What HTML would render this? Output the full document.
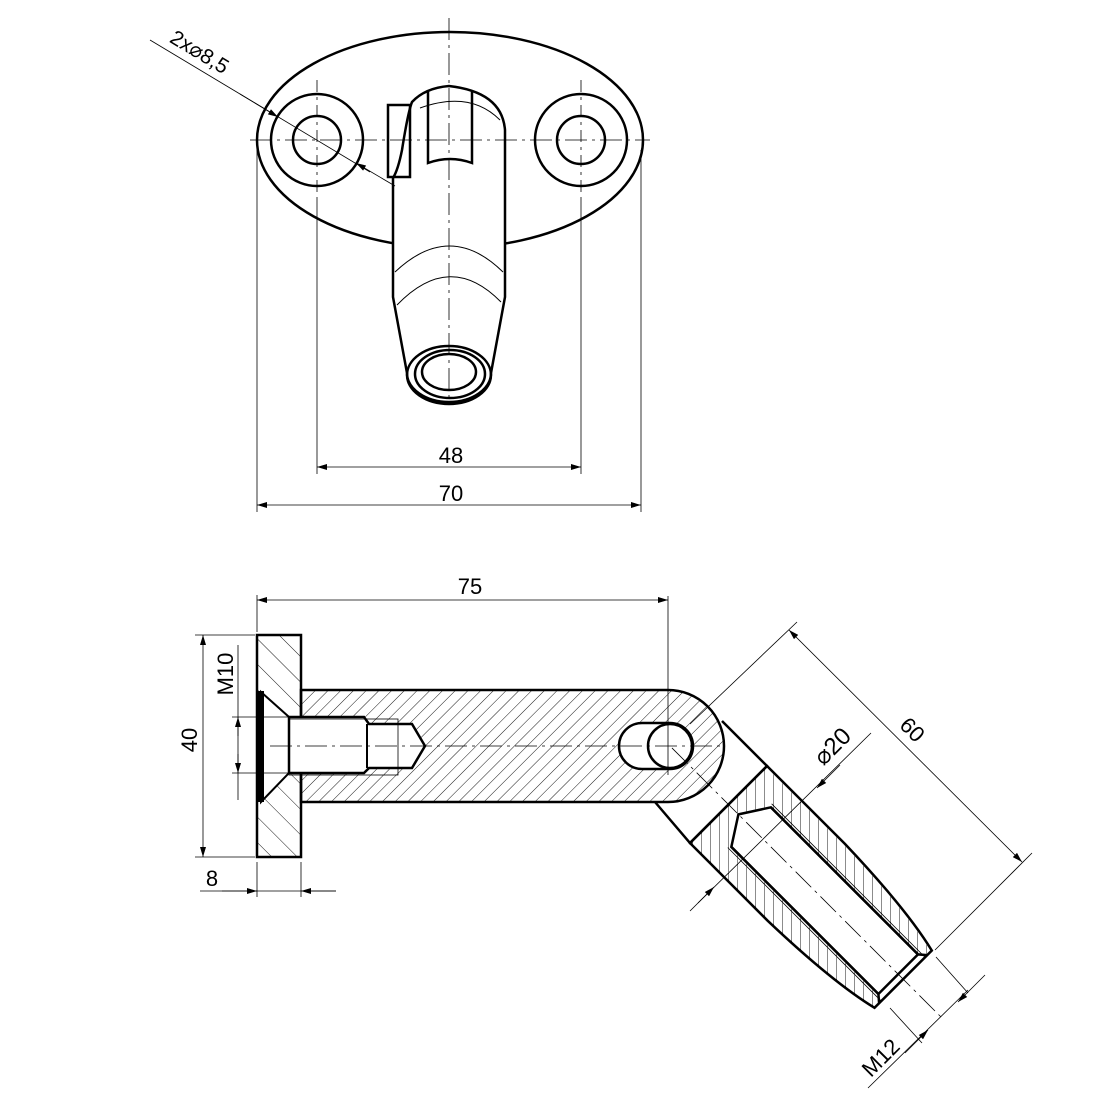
<!DOCTYPE html>
<html><head><style>html,body{margin:0;padding:0;background:#fff}svg{display:block}</style></head>
<body>
<svg width="1108" height="1108" viewBox="0 0 1108 1108" xmlns="http://www.w3.org/2000/svg" font-family="Liberation Sans, sans-serif">
<defs>
<pattern id="hr" width="9" height="9" patternUnits="userSpaceOnUse" patternTransform="rotate(45)"><line x1="0" y1="0" x2="0" y2="9" stroke="#000" stroke-width="0.9"/></pattern>
<pattern id="hp" width="18" height="18" patternUnits="userSpaceOnUse" patternTransform="rotate(-45)"><line x1="0" y1="0" x2="0" y2="18" stroke="#000" stroke-width="0.9"/></pattern>
<pattern id="hv" width="9" height="9" patternUnits="userSpaceOnUse" patternTransform="rotate(-45)"><line x1="0" y1="0" x2="0" y2="9" stroke="#000" stroke-width="0.9"/></pattern>
<marker id="a" viewBox="0 0 10 6" refX="10" refY="3" markerWidth="14" markerHeight="6" markerUnits="userSpaceOnUse" orient="auto-start-reverse"><path d="M0,0 L10,3 L0,6z" fill="#000"/></marker>
</defs>
<rect width="1108" height="1108" fill="#fff"/>

<!-- TOP VIEW -->
<g fill="none" stroke="#000">
<ellipse cx="450" cy="140" rx="193" ry="108" stroke-width="2.5"/>
<circle cx="317" cy="140" r="46" stroke-width="2.5"/>
<circle cx="317" cy="140" r="24" stroke-width="2.5"/>
<circle cx="581" cy="140" r="46" stroke-width="2.5"/>
<circle cx="581" cy="140" r="24" stroke-width="2.5"/>
<path d="M393,178 L393,297 L407,373 A42,29 0 0 0 491,373 L505,297 L505,130 Q502,92 449,86 Q425,88 412,102 Q408,112 402,150 Q398,170 393,178 Z" fill="#fff" stroke-width="2.5"/>
<rect x="388" y="105" width="22" height="72" fill="none" stroke-width="2.5"/>
<path d="M428,90 L428,163 Q450,155 472,163 L472,90" stroke-width="2.5"/>
<ellipse cx="449" cy="375" rx="42" ry="29" stroke-width="2.5"/>
<ellipse cx="450" cy="374" rx="35" ry="24" stroke-width="2.5"/>
<ellipse cx="449" cy="372" rx="27" ry="18" stroke-width="2.5"/>
<path d="M395,272 Q450,220 503,272" stroke-width="1"/>
<path d="M397,305 Q450,250 501,302" stroke-width="1"/>
<path d="M420,108 Q470,90 500,120" stroke-width="1"/>
</g>
<g stroke="#000" stroke-width="0.8" fill="none">
<line x1="449" y1="18" x2="449" y2="400" stroke-dasharray="22,5,3,5"/>
<line x1="250" y1="140" x2="650" y2="140" stroke-dasharray="22,5,3,5"/>
<line x1="317" y1="80" x2="317" y2="200" stroke-dasharray="12,5,3,5"/>
<line x1="581" y1="80" x2="581" y2="200" stroke-dasharray="12,5,3,5"/>
<line x1="317" y1="200" x2="317" y2="474"/>
<line x1="581" y1="200" x2="581" y2="474"/>
<line x1="257" y1="150" x2="257" y2="512"/>
<line x1="641" y1="150" x2="641" y2="512"/>
<line x1="317" y1="467" x2="581" y2="467" marker-start="url(#a)" marker-end="url(#a)"/>
<line x1="257" y1="505" x2="641" y2="505" marker-start="url(#a)" marker-end="url(#a)"/>
<line x1="150" y1="40" x2="370" y2="172"/>
<line x1="240" y1="94" x2="278" y2="117" marker-end="url(#a)"/>
<line x1="395" y1="186" x2="356" y2="163" marker-end="url(#a)"/>
</g>
<text x="451" y="463" font-size="22" text-anchor="middle">48</text>
<text x="451" y="501" font-size="22" text-anchor="middle">70</text>
<text x="196" y="58" font-size="21" text-anchor="middle" transform="rotate(31 196 58)">2x⌀8,5</text>

<!-- SIDE VIEW -->
<path d="M655,802 L690,843 L767,766 L722,721" fill="#fff" stroke="#000" stroke-width="2.5"/>
<path d="M301,690 L668,690 A56,56 0 0 1 668,802 L301,802 Z" fill="url(#hr)" stroke="#000" stroke-width="2.5"/>
<rect x="257" y="635" width="44" height="222" fill="url(#hp)" stroke="#000" stroke-width="2.5"/>
<path d="M261,692 L289,717 L289,773 L261,802 Z" fill="#fff" stroke="#000" stroke-width="2"/>
<rect x="257" y="691" width="7" height="111" fill="#000"/>
<path d="M289,717 L364,717 L369,724 L412,724 L425,746 L412,768 L369,768 L364,773 L289,773 Z" fill="#fff" stroke="#000" stroke-width="2.5"/>
<line x1="367" y1="724" x2="367" y2="768" stroke="#000" stroke-width="2"/>
<rect x="289" y="719" width="109" height="56" fill="none" stroke="#000" stroke-width="0.8"/>
<path d="M642,723 L670,723 A23,23 0 0 1 670,769 L642,769 A23,23 0 0 1 642,723 Z" fill="#fff" stroke="#000" stroke-width="2.5"/>
<circle cx="670" cy="746" r="22" fill="#fff" stroke="#000" stroke-width="2.5"/>

<g transform="translate(728.5,804.5) rotate(45)">
<path d="M0,-54.5 L110,-54.5 Q200,-52 247,-40.5 L247,40.5 Q200,52 110,54.5 L0,54.5 Z M14,0 L32,-28 L240,-28 L247,-34 L247,34 L240,28 L32,28 Z" fill="url(#hv)" fill-rule="evenodd" stroke="#000" stroke-width="2.5"/>
<path d="M32,-28 L240,-28 L240,28 L32,28" fill="none" stroke="#000" stroke-width="2.5"/>
<path d="M30,-31 L247,-31 M30,31 L247,31" stroke="#000" stroke-width="0.8"/>
<line x1="-80" y1="0" x2="300" y2="0" stroke="#000" stroke-width="0.8" stroke-dasharray="22,5,3,5"/>
</g>

<g stroke="#000" stroke-width="0.8" fill="none">
<line x1="270" y1="746" x2="725" y2="746" stroke-dasharray="22,5,3,5"/>
<line x1="668" y1="596" x2="668" y2="775"/>
<line x1="257" y1="595" x2="257" y2="632"/>
<line x1="257" y1="600" x2="668" y2="600" marker-start="url(#a)" marker-end="url(#a)"/>
<line x1="195" y1="635" x2="255" y2="635"/>
<line x1="195" y1="857" x2="255" y2="857"/>
<line x1="203" y1="635" x2="203" y2="857" marker-start="url(#a)" marker-end="url(#a)"/>
<line x1="232" y1="717" x2="289" y2="717"/>
<line x1="232" y1="773" x2="289" y2="773"/>
<line x1="238" y1="645" x2="238" y2="800"/>
<line x1="238" y1="736" x2="238" y2="717" marker-end="url(#a)"/>
<line x1="238" y1="754" x2="238" y2="773" marker-end="url(#a)"/>
<line x1="257" y1="862" x2="257" y2="897"/>
<line x1="301" y1="862" x2="301" y2="897"/>
<line x1="200" y1="891" x2="336" y2="891"/>
<line x1="222" y1="891" x2="257" y2="891" marker-end="url(#a)"/>
<line x1="336" y1="891" x2="301" y2="891" marker-end="url(#a)"/>
<line x1="690" y1="724" x2="797" y2="622"/>
<line x1="935" y1="950" x2="1032" y2="853"/>
<line x1="789" y1="630" x2="1022" y2="862" marker-start="url(#a)" marker-end="url(#a)"/>
<line x1="698" y1="903" x2="871" y2="733"/>
<line x1="690" y1="911" x2="714" y2="887" marker-end="url(#a)"/>
<line x1="840" y1="765" x2="817" y2="788" marker-end="url(#a)"/>
<line x1="890" y1="1008" x2="922" y2="1043"/>
<line x1="936" y1="957" x2="968" y2="993"/>
<line x1="868" y1="1088" x2="968" y2="990"/>
<line x1="905" y1="1053" x2="928" y2="1030" marker-end="url(#a)"/>
<line x1="985" y1="975" x2="958" y2="1002" marker-end="url(#a)"/>
</g>
<text x="470" y="594" font-size="22" text-anchor="middle">75</text>
<text x="197" y="740" font-size="22" text-anchor="middle" transform="rotate(-90 197 740)">40</text>
<text x="233" y="674" font-size="22" text-anchor="middle" transform="rotate(-90 233 674)">M10</text>
<text x="212" y="886" font-size="22" text-anchor="middle">8</text>
<text x="907" y="735" font-size="22" text-anchor="middle" transform="rotate(45 907 735)">60</text>
<text x="838" y="752" font-size="24" text-anchor="middle" transform="rotate(-45 838 752)">⌀20</text>
<text x="886" y="1063" font-size="22" text-anchor="middle" transform="rotate(-45 886 1063)">M12</text>
</svg>
</body></html>
